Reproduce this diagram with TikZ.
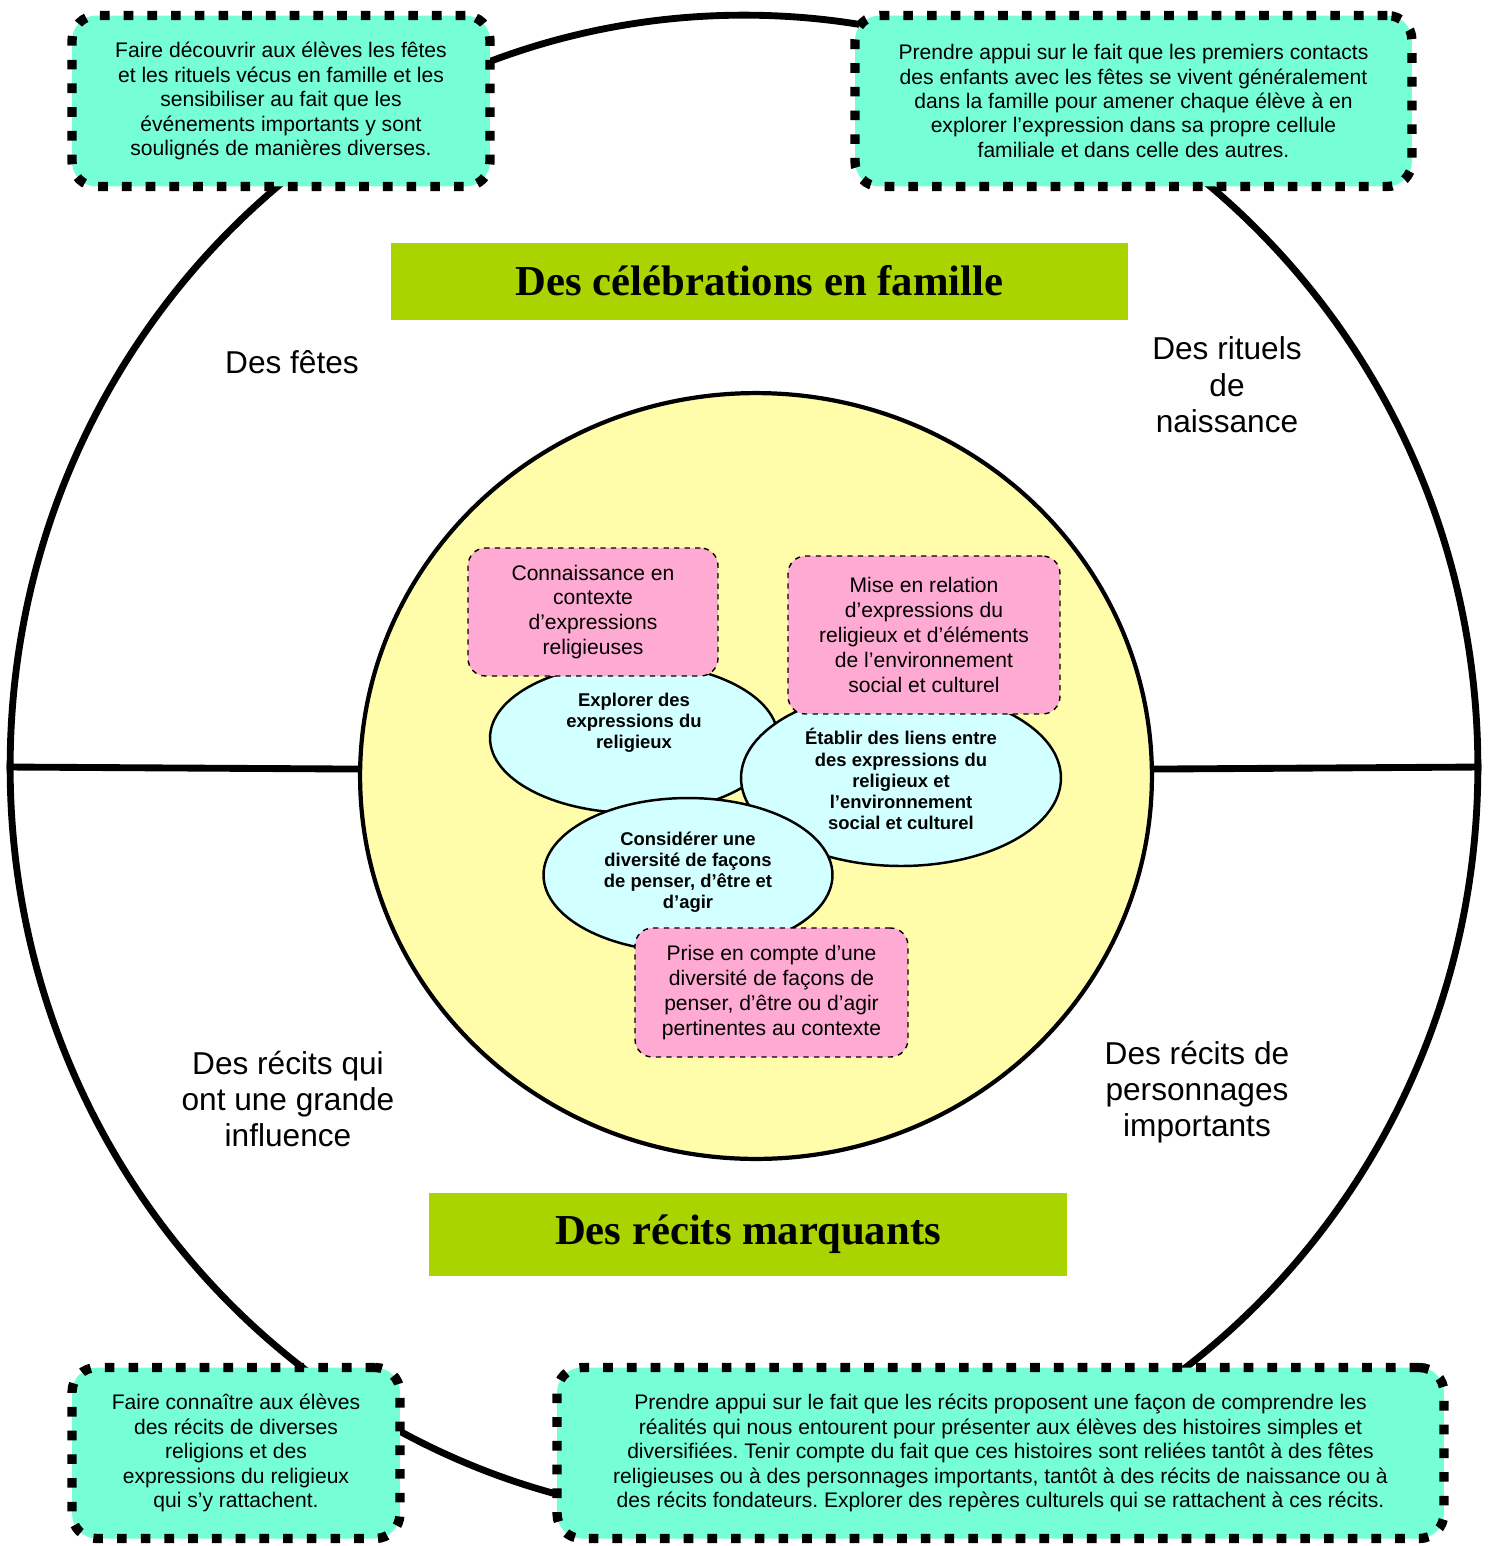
\documentclass[tikz,border=0pt]{standalone}
\usepackage{xcolor}
\usepackage{fontspec}
\setmainfont{Liberation Sans}
\newfontfamily\titrefont{Liberation Serif}
\usepackage{tikz}
\usetikzlibrary{shapes.geometric, positioning}
\frenchspacing

\definecolor{turquoise}{RGB}{118,254,214}
\definecolor{vertpomme}{RGB}{170,212,0}
\definecolor{jaunepale}{RGB}{255,252,170}
\definecolor{rose}{RGB}{255,170,210}
\definecolor{cyanpale}{RGB}{210,255,255}

\begin{document}
\begin{tikzpicture}[x=0.02cm, y=-0.02cm,
    cadre/.style={draw=black, fill=turquoise, line width=5.3pt, dash pattern=on 5.5pt off 8pt,
        rounded corners=14pt, align=center, inner sep=0pt, font=\fontsize{12}{13.9}\selectfont},
    visee/.style={draw=black, fill=rose, thick, dashed, rounded corners=10pt, align=center,
        inner sep=0pt, font=\fontsize{12}{14.2}\selectfont},
    bulle/.style={ellipse, draw=black, fill=cyanpale, line width=1.4pt, inner sep=0pt},
    bulletxt/.style={align=center, font=\bfseries\fontsize{10.5}{12}\selectfont},
    titre/.style={fill=vertpomme, inner sep=0pt, font=\titrefont\bfseries\fontsize{24.3}{28}\selectfont},
    etiquette/.style={align=center, font=\fontsize{18}{20.7}\selectfont},
    trait/.style={line width=3.9pt}]
    \useasboundingbox (0,0) rectangle (1489,1546);

    % Cercles
    \node[ellipse, draw=black, line width=3.9pt, inner sep=0pt, minimum width=29.36cm, minimum height=30.08cm] (cycle) at (744,767) {};
    \node[ellipse, draw=black, fill=jaunepale, line width=2.4pt, inner sep=0pt, minimum width=15.84cm, minimum height=15.32cm] (coeur) at (756,776) {};
    \draw[trait] (cycle.west) -- (coeur.179);
    \draw[trait] (cycle.east) -- (coeur.1);

    % Competences
    \node[bulle, minimum width=5.76cm, minimum height=3cm] (explorer) at (634,738) {};
    \node[bulletxt] (explorertxt) at (634,723) {Explorer des\\expressions du\\religieux};
    \node[bulle, minimum width=6.4cm, minimum height=3.52cm] (liens) at (901,778) {};
    \node[bulletxt] (lienstxt) at (901,779) {Établir des liens entre\\des expressions du\\religieux et\\l’environnement\\social et culturel};
    \node[bulle, minimum width=5.78cm, minimum height=3.08cm] (considerer) at (688,875) {};
    \node[bulletxt] (considerertxt) at (688,872) {Considérer une\\diversité de façons\\de penser, d’être et\\d’agir};

    % Visees
    \node[visee, minimum width=5cm, minimum height=2.56cm] (connaissance) at (593,612) {Connaissance en\\contexte\\d’expressions\\religieuses};
    \node[visee, minimum width=5.44cm, minimum height=3.16cm] (relation) at (924,635) {Mise en relation\\d’expressions du\\religieux et d’éléments\\de l’environnement\\social et culturel};
    \node[visee, minimum width=5.46cm, minimum height=2.58cm] (prise) at (771.5,992.5) {Prise en compte d’une\\diversité de façons de\\penser, d’être ou d’agir\\pertinentes au contexte};

    % Etiquettes
    \node[etiquette] (fetes) at (292,362) {Des fêtes};
    \node[etiquette] (rituels) at (1227,385) {Des rituels\\de\\naissance};
    \node[etiquette] (influence) at (288,1099) {Des récits qui\\ont une grande\\influence};
    \node[etiquette] (personnages) at (1197,1092) {Des récits de\\personnages\\importants};

    % Titres
    \node[titre, minimum width=14.74cm, minimum height=1.54cm] (famille) at (759.5,281) {Des célébrations en famille};
    \node[titre, minimum width=12.76cm, minimum height=1.66cm] (marquants) at (748,1234.5) {Des récits marquants};

    % Cadres
    \node[cadre, minimum width=8.36cm, minimum height=3.42cm] (decouvrir) at (281,101) {Faire découvrir aux élèves les fêtes\\et les rituels vécus en famille et les\\sensibiliser au fait que les\\événements importants y sont\\soulignés de manières diverses.};
    \node[cadre, minimum width=11.14cm, minimum height=3.42cm] (appui) at (1133.5,101) {Prendre appui sur le fait que les premiers contacts\\des enfants avec les fêtes se vivent généralement\\dans la famille pour amener chaque élève à en\\explorer l’expression dans sa propre cellule\\familiale et dans celle des autres.};
    \node[cadre, minimum width=6.56cm, minimum height=3.42cm] (connaitre) at (236,1453) {Faire connaître aux élèves\\des récits de diverses\\religions et des\\expressions du religieux\\qui s’y rattachent.};
    \node[cadre, minimum width=17.74cm, minimum height=3.42cm] (recits) at (1000.5,1453) {Prendre appui sur le fait que les récits proposent une façon de comprendre les\\réalités qui nous entourent pour présenter aux élèves des histoires simples et\\diversifiées. Tenir compte du fait que ces histoires sont reliées tantôt à des fêtes\\religieuses ou à des personnages importants, tantôt à des récits de naissance ou à\\des récits fondateurs. Explorer des repères culturels qui se rattachent à ces récits.};
\end{tikzpicture}
\end{document}
